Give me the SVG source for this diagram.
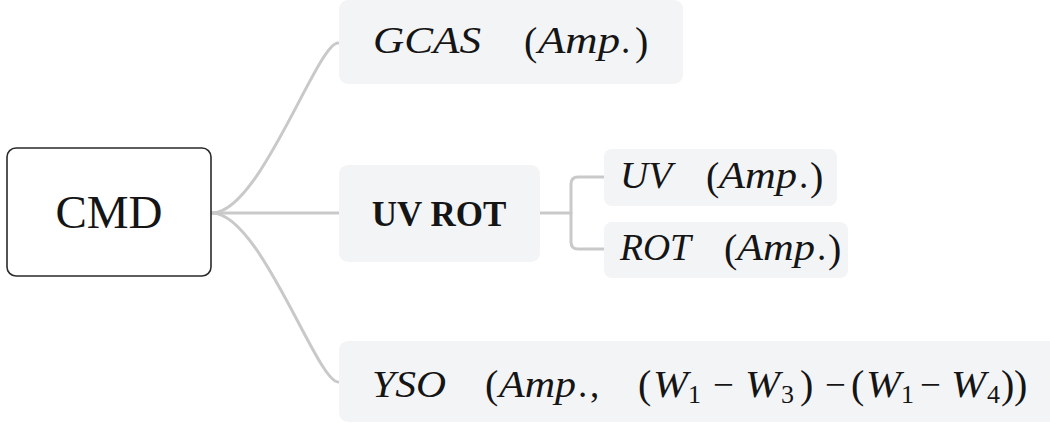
<svg xmlns="http://www.w3.org/2000/svg" width="1050" height="423" viewBox="0 0 1050 423">
<style>
.bg{fill:#ffffff}
.root{fill:#ffffff;stroke:#2a2a2a;stroke-width:1.6}
.box{fill:#f3f4f6;stroke:none}
.conn{fill:none;stroke:#c9c9c9;stroke-width:3;stroke-linecap:round}
.t{fill:#151515}
.mi{font-style:italic;font-size:38px}
.mr{font-size:37px}
.pr{font-size:40px}
.sb{font-size:26px}
.cmd{font-size:47px}
.bold{font-size:35px;font-weight:bold}
</style>
<rect class="bg" x="0" y="0" width="1050" height="423"/>
<g id="connectors">
<path class="conn" d="M212,213 C260,213 317,43 338,43"/>
<path class="conn" d="M212,213 L339,213"/>
<path class="conn" d="M212,213 C260,213 317,382 338,382"/>
<path class="conn" d="M540,213 H571"/>
<path class="conn" d="M604,177 H578 Q571,177 571,184 V242 Q571,249 578,249 H604"/>
</g>
<g id="node-cmd">
<rect class="root" x="7" y="148" width="204" height="128" rx="9"/>
<text class="t cmd" font-family="Liberation Serif, Times New Roman, serif" x="109" y="228" text-anchor="middle">CMD</text>
</g>
<g id="node-gcas" class="t" font-family="Liberation Serif, Times New Roman, serif">
<rect class="box" x="339" y="0" width="344" height="84" rx="9"/>
<text class="mi" x="373" y="53" textLength="108" lengthAdjust="spacingAndGlyphs">GCAS</text>
<text class="pr" x="524" y="55">(</text>
<text class="mi" x="538" y="53" textLength="82" lengthAdjust="spacingAndGlyphs">Amp</text>
<text class="mr" x="621" y="53">.</text>
<text class="pr" x="635" y="55">)</text>
</g>
<g id="node-uvrot" class="t" font-family="Liberation Serif, Times New Roman, serif">
<rect class="box" x="339" y="165" width="201" height="97" rx="9"/>
<text class="bold" x="439" y="226" text-anchor="middle">UV ROT</text>
</g>
<g id="node-uv" class="t" font-family="Liberation Serif, Times New Roman, serif">
<rect class="box" x="604" y="149" width="233" height="57" rx="8"/>
<text class="mi" x="620" y="188" textLength="52" lengthAdjust="spacingAndGlyphs">UV</text>
<text class="pr" x="706" y="190">(</text>
<text class="mi" x="719" y="188" textLength="78" lengthAdjust="spacingAndGlyphs">Amp</text>
<text class="mr" x="799" y="188">.</text>
<text class="pr" x="810" y="190">)</text>
</g>
<g id="node-rot" class="t" font-family="Liberation Serif, Times New Roman, serif">
<rect class="box" x="604" y="222" width="244" height="56" rx="8"/>
<text class="mi" x="620" y="260" textLength="71" lengthAdjust="spacingAndGlyphs">ROT</text>
<text class="pr" x="724" y="262">(</text>
<text class="mi" x="737" y="260" textLength="78" lengthAdjust="spacingAndGlyphs">Amp</text>
<text class="mr" x="817" y="260">.</text>
<text class="pr" x="828" y="262">)</text>
</g>
<g id="node-yso" class="t" font-family="Liberation Serif, Times New Roman, serif">
<rect class="box" x="339" y="341" width="720" height="81" rx="9"/>
<text class="mi" x="372" y="397" textLength="74" lengthAdjust="spacingAndGlyphs">YSO</text>
<text class="pr" x="485" y="398">(</text>
<text class="mi" x="499" y="397" textLength="77" lengthAdjust="spacingAndGlyphs">Amp</text>
<text class="mr" x="578" y="397">.</text>
<text class="mr" x="590" y="397">,</text>
<text class="pr" x="638" y="398">(</text>
<text class="mi" x="653" y="397" textLength="35" lengthAdjust="spacingAndGlyphs">W</text>
<text class="sb" x="688" y="403">1</text>
<text class="mr" x="713" y="397">−</text>
<text class="mi" x="745" y="397" textLength="35" lengthAdjust="spacingAndGlyphs">W</text>
<text class="sb" x="781" y="403">3</text>
<text class="pr" x="800" y="398">)</text>
<text class="mr" x="825" y="397">−</text>
<text class="pr" x="851" y="398">(</text>
<text class="mi" x="866" y="397" textLength="35" lengthAdjust="spacingAndGlyphs">W</text>
<text class="sb" x="901" y="403">1</text>
<text class="mr" x="920" y="397">−</text>
<text class="mi" x="951" y="397" textLength="35" lengthAdjust="spacingAndGlyphs">W</text>
<text class="sb" x="987" y="403">4</text>
<text class="pr" x="1001" y="398">)</text>
<text class="pr" x="1014" y="398">)</text>
</g>
</svg>
